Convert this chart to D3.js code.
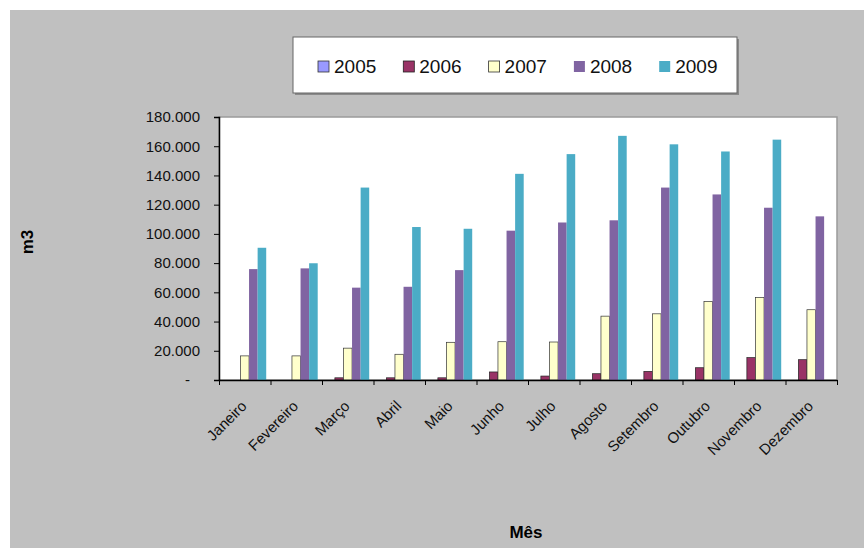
<!DOCTYPE html>
<html>
<head>
<meta charset="utf-8">
<script src="https://cdn.jsdelivr.net/npm/d3@7"></script>
<style>
  html, body { margin: 0; padding: 0; background: #fff; }
  svg { display: block; font-family: Arial, "Liberation Sans", sans-serif; }
</style>
</head>
<body>
<div id="field"></div>
<script>
'use strict';

// dados (m3 por mês)
const meses = ['Janeiro', 'Fevereiro', 'Março', 'Abril', 'Maio', 'Junho', 'Julho',
               'Agosto', 'Setembro', 'Outubro', 'Novembro', 'Dezembro'];
const anos = ['2005', '2006', '2007', '2008', '2009'];
const v2005 = [0, 0, 0, 0, 0, 0, 0, 0, 0, 0, 0, 0];
const v2006 = [0, 0, 1500, 1500, 1500, 5500, 2700, 4300, 5900, 8400, 15300, 13900];
const v2007 = [16500, 16500, 21800, 17600, 25800, 26200, 26000, 43700, 45300, 53800, 56500, 48100];
const v2008 = [75900, 76400, 63200, 63800, 75200, 102200, 107800, 109300, 131700, 127000, 117900, 112000];
const v2009 = [90500, 79900, 131700, 104700, 103500, 141100, 154600, 167100, 161300, 156400, 164500, 0];
const yTicks = [0, 20000, 40000, 60000, 80000, 100000, 120000, 140000, 160000, 180000];

const series = [v2005, v2006, v2007, v2008, v2009];
const cores = ['#9999FF', '#993366', '#FFFFCC', '#8064A2', '#4BACC6'];
const bordas = ['#333', '#222', '#333', 'none', 'none'];

const w = 864, h = 548;
const plot = {l: 219, t: 117, r: 837, b: 380};

const svg = d3.select('#field').append('svg').attr('width', w).attr('height', h);

// fundo cinza
svg.append('rect').attr('x', 10).attr('y', 10).attr('width', w - 10).attr('height', h - 10)
   .attr('fill', '#C0C0C0');

// área do gráfico
svg.append('rect').attr('x', plot.l).attr('y', plot.t)
   .attr('width', plot.r - plot.l).attr('height', plot.b - plot.t)
   .attr('fill', '#fff').attr('stroke', '#9a9a9a').attr('stroke-width', 1.5);

const x0 = d3.scaleBand().domain(meses).range([plot.l, plot.r]).paddingInner(0);
const x1 = d3.scaleBand().domain(anos).range([0, x0.bandwidth()]).paddingInner(0).paddingOuter(0.5);
const y = d3.scaleLinear().domain([0, 180000]).range([plot.b, plot.t]);

// barras
const linhas = meses.map(function(m, i) {
  return anos.map(function(a, k) { return {mes: m, ano: a, k: k, v: series[k][i]}; });
});
svg.append('g').selectAll('g').data(linhas).enter().append('g')
   .selectAll('rect').data(function(d) { return d.filter(function(e) { return e.v > 0; }); })
   .enter().append('rect')
   .attr('x', function(d) { return x0(d.mes) + x1(d.ano); })
   .attr('y', function(d) { return y(d.v); })
   .attr('width', x1.bandwidth())
   .attr('height', function(d) { return y(0) - y(d.v); })
   .attr('fill', function(d) { return cores[d.k]; })
   .attr('stroke', function(d) { return bordas[d.k]; })
   .attr('stroke-width', 0.7);

// eixo Y
const br = d3.formatLocale({decimal: ',', thousands: '.', grouping: [3], currency: ['R$', '']});
const fmt = br.format(',.0f');
const yAxis = svg.append('g').attr('transform', 'translate(' + plot.l + ',0)')
   .call(d3.axisLeft(y).tickValues(yTicks).tickSize(5).tickPadding(14)
     .tickFormat(function(d) { return d === 0 ? '-' : fmt(d); }));
yAxis.select('.domain').attr('stroke', '#000').attr('stroke-width', 1.5);
yAxis.selectAll('.tick line').attr('stroke', '#000');
yAxis.selectAll('.tick text').attr('font-size', 15).attr('fill', '#111')
   .attr('font-family', 'Arial, "Liberation Sans", sans-serif');
yAxis.selectAll('.tick text').filter(function(d) { return d === 0; }).attr('dx', -10);

// eixo X (marcas entre categorias)
const xt = d3.scaleLinear().domain([0, meses.length]).range([plot.l, plot.r]);
const xAxis = svg.append('g').attr('transform', 'translate(0,' + plot.b + ')')
   .call(d3.axisBottom(xt).ticks(meses.length).tickSize(5).tickSizeOuter(0).tickFormat(''));
xAxis.select('.domain').attr('stroke', '#000').attr('stroke-width', 1.5);
xAxis.selectAll('.tick line').attr('stroke', '#000');

svg.append('g').selectAll('text').data(meses).enter().append('text')
   .attr('transform', function(d) {
     return 'translate(' + (x0(d) + x0.bandwidth() / 2 + 3) + ',' + 407 + ') rotate(-45)';
   })
   .attr('text-anchor', 'end')
   .attr('font-size', 15)
   .attr('fill', '#111')
   .text(function(d) { return d; });

// títulos dos eixos
svg.append('text').attr('transform', 'translate(33,242) rotate(-90)')
   .attr('text-anchor', 'middle').attr('font-size', 17).attr('font-weight', 'bold')
   .text('m3');
svg.append('text').attr('x', 526).attr('y', 538)
   .attr('text-anchor', 'middle').attr('font-size', 17).attr('font-weight', 'bold')
   .text('Mês');

// legenda
const leg = svg.append('g');
leg.append('rect').attr('x', 295).attr('y', 39).attr('width', 444).attr('height', 56)
   .attr('fill', '#8a8a8a');
leg.append('rect').attr('x', 293).attr('y', 37).attr('width', 444).attr('height', 56)
   .attr('fill', '#fff').attr('stroke', '#666').attr('stroke-width', 1);
const items = leg.selectAll('g').data(anos).enter().append('g')
   .attr('transform', function(d, i) { return 'translate(' + (318 + i * 85.3) + ',0)'; });
items.append('rect').attr('x', 0).attr('y', 61).attr('width', 11).attr('height', 11)
   .attr('fill', function(d, i) { return cores[i]; })
   .attr('stroke', function(d, i) { return bordas[i]; })
   .attr('stroke-width', 0.8);
items.append('text').attr('x', 16).attr('y', 73).attr('font-size', 19).attr('fill', '#111')
   .text(function(d) { return d; });
</script>
</body>
</html>
